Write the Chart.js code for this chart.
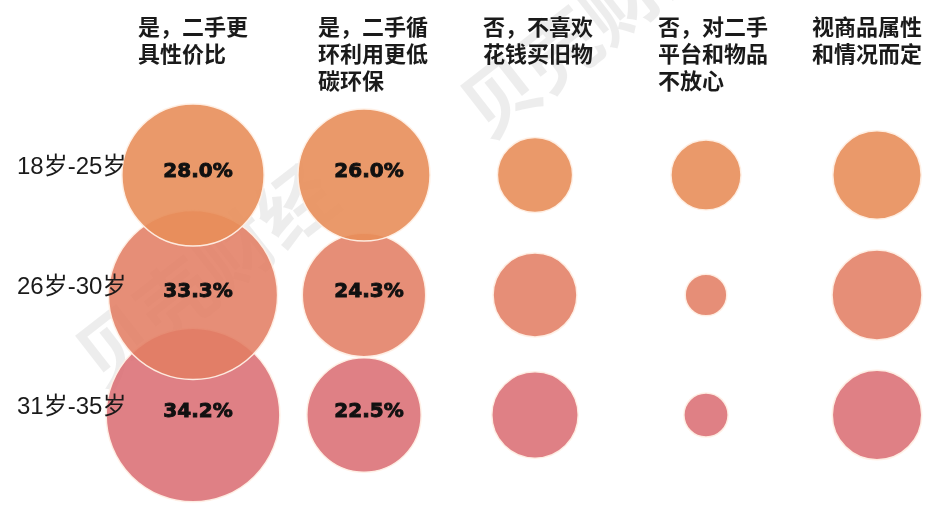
<!DOCTYPE html>
<html>
<head>
<meta charset="utf-8">
<script src="https://cdn.jsdelivr.net/npm/chart.js@4.4.0/dist/chart.umd.min.js"></script>
<style>
  html, body { margin: 0; padding: 0; background: #fff; }
  #wrap { width: 945px; height: 505px; position: relative; }
</style>
</head>
<body>
<div id="wrap"><canvas id="myChart" width="945" height="505"></canvas></div>
<script>
// column headers (each line is one entry)
var answers = [
  ["是，二手更", "具性价比"],
  ["是，二手循", "环利用更低", "碳环保"],
  ["否，不喜欢", "花钱买旧物"],
  ["否，对二手", "平台和物品", "不放心"],
  ["视商品属性", "和情况而定"]
];
var ageGroups = ["18岁-25岁", "26岁-30岁", "31岁-35岁"];

// share of each answer per age group (%), only first two are printed
var age18to25 = [28.0, 26.0, 14.8, 13.8, 17.4];
var age26to30 = [33.3, 24.3, 16.5, 8.2, 17.7];
var age31to35 = [34.2, 22.5, 17.0, 8.7, 17.6];
var labelledCols = 2;
var watermark = "贝壳财经";

var rowColors = ["rgba(232, 142, 90, 0.9)", "rgba(226, 126, 100, 0.88)", "rgba(219, 110, 116, 0.88)"];
var pxPerPercent = 2.54;
var headerLeft = [138, 318, 483, 658, 812];

function makeSet(values, row) {
  return {
    label: ageGroups[row],
    data: values.map(function (v, i) {
      return { x: i + 1, y: row + 1, r: v * pxPerPercent, v: v };
    }),
    backgroundColor: rowColors[row],
    borderColor: "rgba(255, 240, 230, 0.95)",
    borderWidth: 1.5,
    hoverBorderWidth: 1.5,
    clip: false
  };
}

// faint diagonal watermark behind the bubbles
var markPlugin = {
  id: "markPlugin",
  beforeDatasetsDraw: function (chart) {
    var ctx = chart.ctx;
    ctx.save();
    ctx.fillStyle = "rgba(0, 0, 0, 0.07)";
    ctx.font = "bold 76px 'Noto Sans CJK SC'";
    ctx.textAlign = "center";
    ctx.textBaseline = "middle";
    [[205, 275], [590, 25]].forEach(function (p) {
      ctx.save();
      ctx.translate(p[0], p[1]);
      ctx.rotate(-38 * Math.PI / 180);
      ctx.fillText(watermark, 0, 0);
      ctx.restore();
    });
    ctx.restore();
  }
};

// draws headers, row names and the percentages
var textPlugin = {
  id: "textPlugin",
  afterDatasetsDraw: function (chart) {
    var ctx = chart.ctx;
    var xs = chart.scales.x;
    var ys = chart.scales.y;
    ctx.save();
    ctx.fillStyle = "#1a1a1a";
    ctx.textBaseline = "middle";

    // column headers
    ctx.font = "bold 22px 'Noto Sans CJK SC'";
    ctx.textAlign = "left";
    answers.forEach(function (lines, i) {
      lines.forEach(function (l, j) {
        ctx.fillText(l, headerLeft[i], 27 + j * 27);
      });
    });

    // row labels
    ctx.font = "24px 'Liberation Sans', 'Noto Sans CJK SC'";
    ageGroups.forEach(function (g, r) {
      ctx.fillText(g, 17, ys.getPixelForValue(r + 1) - 8);
    });

    // percentages
    ctx.font = "bold 20px 'DejaVu Sans'";
    ctx.textAlign = "center";
    ctx.strokeStyle = "#111";
    ctx.lineWidth = 0.9;
    ctx.fillStyle = "#111";
    chart.data.datasets.forEach(function (ds) {
      ds.data.forEach(function (p, i) {
        if (i >= labelledCols) return;
        var txt = p.v.toFixed(1) + "%";
        var px = xs.getPixelForValue(p.x) + 5;
        var py = ys.getPixelForValue(p.y) - 3;
        ctx.fillText(txt, px, py);
        ctx.strokeText(txt, px, py);
      });
    });
    ctx.restore();
  }
};

new Chart(document.getElementById("myChart"), {
  type: "bubble",
  data: {
    datasets: [
      makeSet(age18to25, 0),
      makeSet(age26to30, 1),
      makeSet(age31to35, 2)
    ]
  },
  options: {
    responsive: false,
    animation: false,
    layout: { padding: 0, autoPadding: false },
    plugins: {
      legend: { display: false },
      tooltip: { enabled: false }
    },
    scales: {
      x: { type: "linear", display: false, min: 1 - 193 / 171, max: 1 - 193 / 171 + 945 / 171 },
      y: { type: "linear", display: false, reverse: true, min: 1 - 175 / 120, max: 1 - 175 / 120 + 505 / 120 }
    }
  },
  plugins: [markPlugin, textPlugin]
});
</script>
</body>
</html>
